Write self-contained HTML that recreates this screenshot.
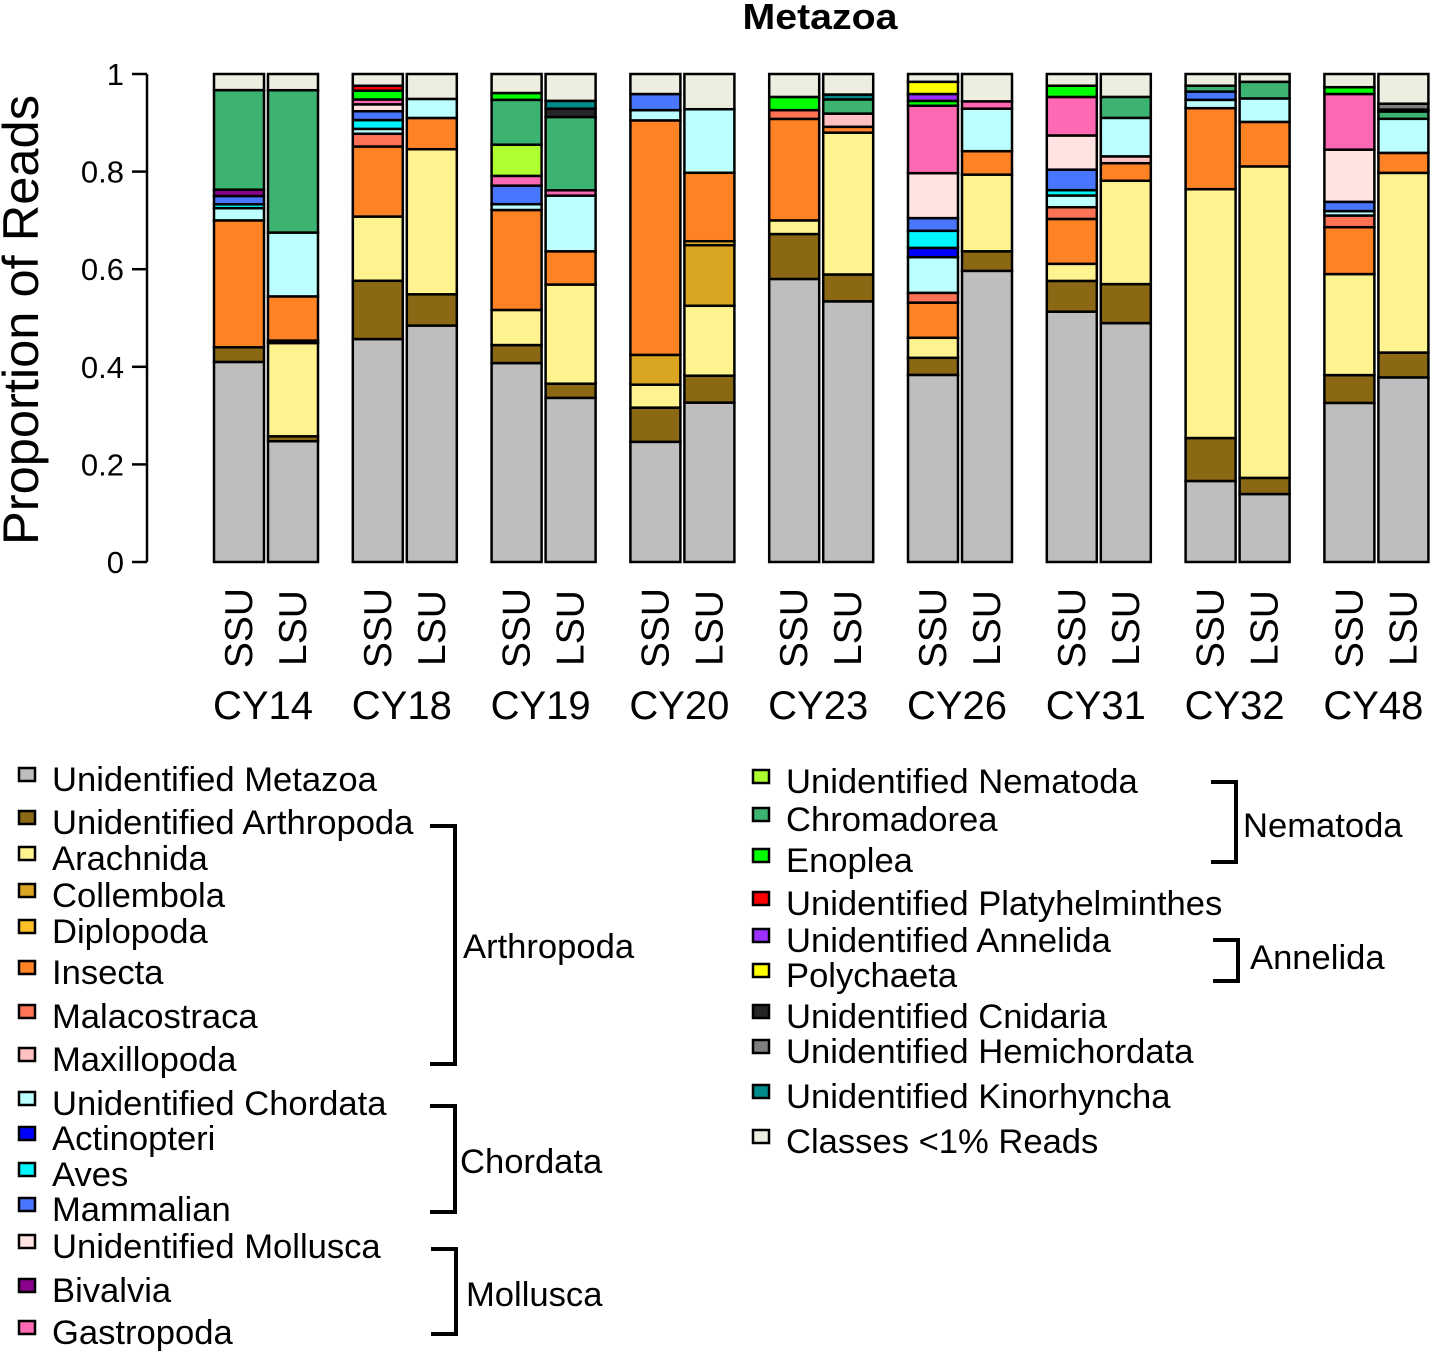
<!DOCTYPE html>
<html><head><meta charset="utf-8">
<style>
body{margin:0;background:#fff;}
svg{display:block;font-family:"Liberation Sans",Arial,sans-serif;}
</style></head>
<body>
<svg id="chart" width="1431" height="1352" viewBox="0 0 1431 1352" xmlns="http://www.w3.org/2000/svg">
<text x="820" y="29" font-size="36" font-weight="bold" text-anchor="middle" textLength="155" lengthAdjust="spacingAndGlyphs">Metazoa</text>
<text transform="translate(38,320) rotate(-90)" font-size="50" text-anchor="middle" textLength="450" lengthAdjust="spacingAndGlyphs">Proportion of Reads</text>
<g id="axis"></g>
<g id="bars"></g>
<g id="xlabels"></g>
<g id="legend"></g>
<g id="brackets"></g>
</svg>
<script>
const NS="http://www.w3.org/2000/svg";
const sites=["CY14","CY18","CY19","CY20","CY23","CY26","CY31","CY32","CY48"];
const markers=["SSU","LSU"];
const yTicks=[0,0.2,0.4,0.6,0.8,1];
const yTickLabels=["0","0.2","0.4","0.6","0.8","1"];
const categories=["Unidentified Metazoa","Unidentified Arthropoda","Arachnida","Collembola","Diplopoda","Insecta","Malacostraca","Maxillopoda","Unidentified Chordata","Actinopteri","Aves","Mammalian","Unidentified Mollusca","Bivalvia","Gastropoda","Unidentified Nematoda","Chromadorea","Enoplea","Unidentified Platyhelminthes","Unidentified Annelida","Polychaeta","Unidentified Cnidaria","Unidentified Hemichordata","Unidentified Kinorhyncha","Classes <1% Reads"];
const colors=["#bebebe","#8b6914","#fff38f","#daa520","#ffc125","#ff8225","#ff7256","#ffc1c1","#bbffff","#0000ff","#00f5ff","#4876ff","#ffe4e1","#8b008b","#ff69b4","#adff2f","#3cb371","#00ff00","#ff0000","#9b30ff","#ffff00","#262626","#7f7f7f","#008b8b","#eeeee0"];
// bar order: CY14 SSU, CY14 LSU, CY18 SSU, CY18 LSU, ... CY48 LSU
const unidMetazoa=[0.41,0.246,0.455,0.484,0.408,0.336,0.246,0.326,0.58,0.533,0.383,0.596,0.513,0.49,0.166,0.139,0.326,0.379];
const unidArthropoda=[0.03,0.01,0.119,0.064,0.037,0.029,0.07,0.055,0.092,0.055,0.035,0.04,0.063,0.08,0.088,0.033,0.057,0.051];
const arachnida=[0,0.19,0.131,0.297,0.072,0.203,0.047,0.143,0.028,0.29,0.041,0.157,0.035,0.212,0.51,0.637,0.207,0.369];
const collembola=[0,0.005,0,0,0,0,0.061,0.124,0,0,0,0,0,0,0,0,0,0];
const diplopoda=[0,0,0,0,0,0,0,0.008,0,0,0,0,0,0,0,0,0,0];
const insecta=[0.26,0.09,0.143,0.064,0.205,0.068,0.48,0.14,0.208,0.012,0.072,0.048,0.092,0.036,0.166,0.091,0.096,0.041];
const malacostraca=[0,0,0.026,0,0,0,0,0,0.018,0,0.02,0,0.024,0,0,0,0.024,0];
const maxillopoda=[0,0,0,0,0,0,0,0,0,0.027,0,0,0,0.014,0,0,0,0];
const unidChordata=[0.025,0.13,0.01,0.039,0.012,0.114,0.021,0.13,0,0,0.073,0.087,0.024,0.079,0.017,0.048,0.009,0.07];
const actinopteri=[0,0,0,0,0,0,0,0,0,0,0.019,0,0,0,0,0,0,0];
const aves=[0.008,0,0.018,0,0,0,0,0,0,0,0.035,0,0.011,0,0,0,0,0];
const mammalian=[0.017,0,0.018,0,0.038,0,0.033,0,0,0,0.026,0,0.042,0,0.017,0,0.019,0];
const unidMollusca=[0,0,0.014,0,0,0,0,0,0,0,0.092,0,0.07,0,0,0,0.107,0];
const bivalvia=[0.013,0,0,0,0,0,0,0,0,0,0,0,0,0,0,0,0,0];
const gastropoda=[0,0,0.01,0,0.02,0.011,0,0,0,0,0.138,0.015,0.079,0,0,0,0.114,0];
const unidNematoda=[0,0,0,0,0.064,0,0,0,0,0,0,0,0,0,0,0,0,0];
const chromadorea=[0.204,0.29,0,0,0.092,0.15,0,0,0,0.029,0,0,0,0.043,0.012,0.034,0,0.015];
const enoplea=[0,0,0.018,0,0.014,0,0,0,0.027,0,0.01,0,0.023,0,0,0,0.014,0];
const platyhelminthes=[0,0,0.01,0,0,0,0,0,0,0,0,0,0,0,0,0,0,0];
const unidAnnelida=[0,0,0,0,0,0,0,0,0,0,0.014,0,0,0,0,0,0,0];
const polychaeta=[0,0,0,0,0,0,0,0,0,0,0.025,0,0,0,0,0,0,0];
const cnidaria=[0,0,0,0,0,0.017,0,0,0,0,0,0,0,0,0,0,0,0.004];
const hemichordata=[0,0,0,0,0,0,0,0,0,0,0,0,0,0,0,0,0,0.012];
const kinorhyncha=[0,0,0,0,0,0.016,0,0,0,0.01,0,0,0,0,0,0,0,0];
const otherClasses=[0.033,0.033,0.024,0.051,0.039,0.055,0.041,0.072,0.047,0.042,0.016,0.056,0.024,0.047,0.024,0.016,0.027,0.061];
const series=[unidMetazoa,unidArthropoda,arachnida,collembola,diplopoda,insecta,malacostraca,maxillopoda,unidChordata,actinopteri,aves,mammalian,unidMollusca,bivalvia,gastropoda,unidNematoda,chromadorea,enoplea,platyhelminthes,unidAnnelida,polychaeta,cnidaria,hemichordata,kinorhyncha,otherClasses];

const Y0=562,Y1=74;
function yScale(v){return Y0-(Y0-Y1)*v;}
const BW=50,GSTEP=138.8,X0=214,PAIR=54;
function xScale(i){const g=Math.floor(i/2),m=i%2;return X0+g*GSTEP+m*PAIR;}
function mk(tag,attrs,parent){const e=document.createElementNS(NS,tag);for(const k in attrs)e.setAttribute(k,attrs[k]);parent.appendChild(e);return e;}

const axis=document.getElementById('axis');
const al=mk('line',{x1:147,x2:147,y1:yScale(0),y2:yScale(1),stroke:'#000','stroke-width':2.5},axis);


yTicks.forEach((t,i)=>{
  const tl=mk('line',{x1:132,x2:147,y1:yScale(t),y2:yScale(t),stroke:'#000','stroke-width':2.5},axis);
  
  
  const tx=mk('text',{x:124,y:yScale(t)+11,'font-size':31,'text-anchor':'end'},axis);
  tx.textContent=yTickLabels[i];
  
  
});

const bars=document.getElementById('bars');
const nBars=unidMetazoa.length;
for(let b=0;b<nBars;b++){
  let total=0;series.forEach(s=>total+=s[b]);
  let cum=0;const x=xScale(b);
  const g=mk('g',{},bars);
  
  
  series.forEach((s,ci)=>{
    const v=s[b]/total;if(v<=0)return;
    const ya=yScale(cum),yb=yScale(cum+v);cum+=v;
    const r=mk('rect',{x:x,y:yb,width:BW,height:ya-yb,fill:colors[ci],stroke:'#000','stroke-width':2.5},g);
    
    
  });
}

const xl=document.getElementById('xlabels');
for(let b=0;b<nBars;b++){
  const cx=xScale(b)+BW/2;
  const t=mk('text',{transform:`translate(${cx+13},628) rotate(-90)`,'font-size':39,'text-anchor':'middle'},xl);
  t.textContent=markers[b%2];
  
  
}
sites.forEach((s,g)=>{
  const cx=xScale(g*2)+(PAIR+BW)/2-3;
  const t=mk('text',{x:cx,y:719,'font-size':40,'text-anchor':'middle'},xl);
  t.textContent=s;
  
  
});

const legendLeftY=[779,822,858,895,931,972,1016,1059,1103,1138,1174,1209,1246,1290,1332];
const legendRightY=[781,819,860,903,940,975,1016,1051,1096,1141];
const lg=document.getElementById('legend');
categories.forEach((c,i)=>{
  const left=i<15;const y=left?legendLeftY[i]:legendRightY[i-15];
  const sx=left?19:753,tx=left?52:786;
  const g=mk('g',{},lg);
  
  
  mk('rect',{x:sx,y:y-11,width:16,height:13,fill:colors[i],stroke:'#000','stroke-width':2.5},g);
  const t=mk('text',{x:tx,y:y+12,'font-size':34.6},g);
  t.textContent=c;
});

const br=document.getElementById('brackets');
const brackets=[["Arthropoda",826,1064,455,430,463,958],["Chordata",1106,1212,455,430,460,1173],["Mollusca",1249,1334,456,431,466,1306],["Nematoda",782,862,1236,1211,1243,837],["Annelida",940,981,1238,1213,1250,969]];
brackets.forEach(b=>{
  const g=mk('g',{},br);
  
  
  mk('path',{d:`M${b[4]},${b[1]} H${b[3]} V${b[2]} H${b[4]}`,fill:'none',stroke:'#000','stroke-width':4},g);
  const t=mk('text',{x:b[5],y:b[6],'font-size':34.6},g);
  t.textContent=b[0];
});
</script>
</body></html>
